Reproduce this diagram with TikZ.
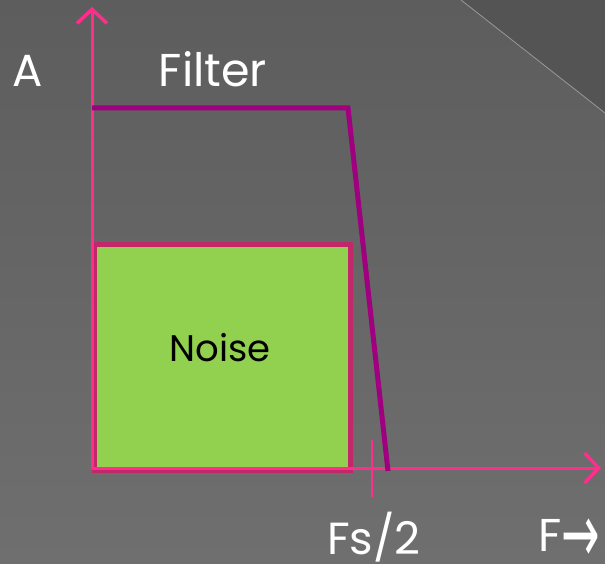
\documentclass[tikz,border=0pt]{standalone}
\usepackage{fontspec}
\setmainfont{Poppins}
\newfontfamily\symfont{DejaVu Sans}
\usetikzlibrary{arrows.meta}
\definecolor{axispink}{HTML}{FF2D8C}
\definecolor{filterpurple}{HTML}{A0007F}
\definecolor{noiseborder}{HTML}{C0286A}
\definecolor{noisefill}{HTML}{92D050}
\definecolor{bgtop}{HTML}{5D5D5D}
\definecolor{bgbot}{HTML}{6F6F6F}
\definecolor{corner}{HTML}{545454}
\tikzset{
  axisline/.style={draw=axispink, line width=3pt, -{Straight Barb[length=14pt,width=30pt,line width=3.5pt]}},
  filterline/.style={draw=filterpurple, line width=5pt, line join=miter},
  noisebox/.style={draw=noiseborder, fill=noisefill, line width=4.5pt, minimum width=256pt, minimum height=226pt, inner sep=0pt, anchor=north west},
  lbl/.style={text=white, inner sep=0pt, anchor=base, font=\fontsize{46}{50}\selectfont},
  ticky/.style={draw=axispink, line width=2pt}
}
\begin{document}
\begin{tikzpicture}[x=1pt,y=-1pt]
\useasboundingbox (0,0) rectangle (605,564);
\shade[top color=bgtop, bottom color=bgbot] (0,0) rectangle (605,564);
\fill[corner] (461,0) -- (605,0) -- (605,113) -- cycle;
\draw[color=gray!80!white, line width=0.8pt] (461,0) -- (605,113);
% axes
\coordinate (o) at (92,468);
\coordinate (ytop) at (92,7);
\coordinate (xend) at (601,468);
\node[noisebox] (noise) at (92,242) {};
\node[font=\fontsize{37}{40}\selectfont, text=black, anchor=base, inner sep=0pt] (noiselbl) at (220,361) {Noise};
\draw[axisline] (o) -- (ytop);
\draw[axisline] (o) -- (xend);
% tick
\coordinate (tt) at (372,440);
\coordinate (tb) at (372,497);
\draw[ticky] (tt) -- (tb);
% filter
\coordinate (f1) at (92,108);
\coordinate (f2) at (348,108);
\coordinate (f3) at (388,471);
\draw[filterline] (f1) -- (f2) -- (f3);
% labels
\node[lbl, font=\fontsize{45}{50}\selectfont] (A) at (28,87) {A};
\node[lbl, font=\fontsize{46}{50}\selectfont] (filter) at (213,87) {Filter};
\node[lbl, font=\fontsize{45}{50}\selectfont] (fs) at (374,554) {Fs/2};
\node[lbl, font=\fontsize{46}{50}\selectfont, anchor=base west] (F) at (538,551) {F{\symfont\fontsize{46}{50}\selectfont\raisebox{-11pt}{\scalebox{1}[1.8]{→}}}};
\end{tikzpicture}
\end{document}
